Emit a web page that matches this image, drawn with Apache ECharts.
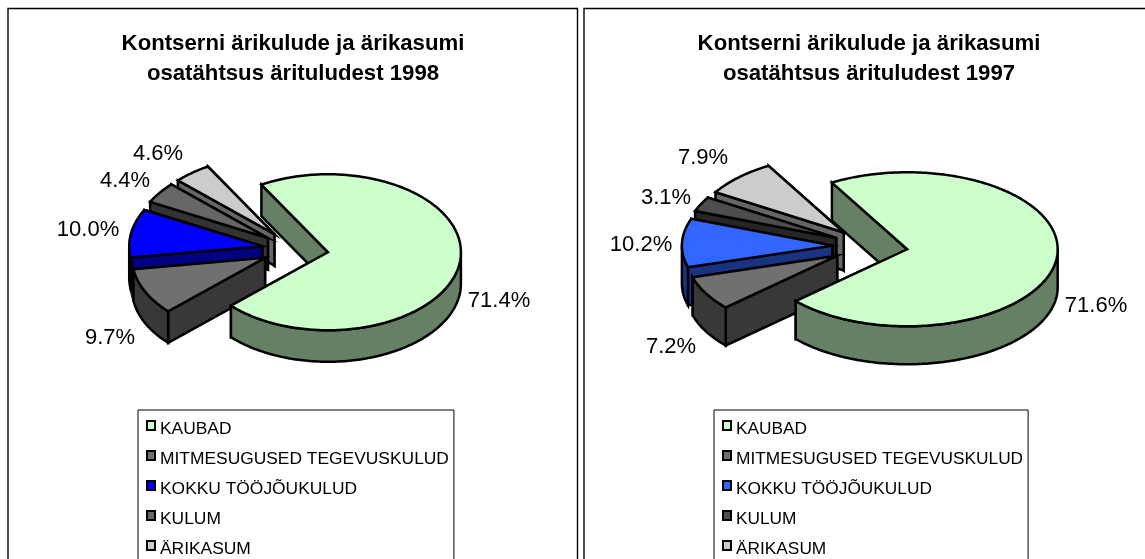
<!DOCTYPE html>
<html>
<head>
<meta charset="utf-8">
<style>
html, body { margin: 0; padding: 0; background: #fff; overflow: hidden; }
#left, #right { position: absolute; top: 0; height: 559px; }
#left { left: 0; width: 581px; }
#right { left: 581px; width: 564px; }
</style>
</head>
<body>
<div id="left"></div>
<div id="right"></div>
<script src="https://cdn.jsdelivr.net/npm/echarts@6/dist/echarts.min.js"></script>
<script>
var categories = ['KAUBAD', 'MITMESUGUSED TEGEVUSKULUD', 'KOKKU TÖÖJÕUKULUD', 'KULUM', 'ÄRIKASUM']

var values1998 = [71.4, 9.7, 10.0, 4.4, 4.6]
var values1997 = [71.6, 7.2, 10.2, 3.1, 7.9]

var labels1998 = ['71.4%', '9.7%', '10.0%', '4.4%', '4.6%']
var labels1997 = ['71.6%', '7.2%', '10.2%', '3.1%', '7.9%']

var titleLines = ['Kontserni ärikulude ja ärikasumi', 'osatähtsus ärituludest ']

var font = '"Liberation Sans", Arial, sans-serif'

// 3d pie: each slice is pulled out along its own middle angle
var drawPie = (dom, cfg) => {
    var chart = echarts.init(dom)
    var total = cfg.values.reduce((a, b) => a + b, 0)
    var rad = (deg) => deg * Math.PI / 180

    // angle is clockwise from the top, pie is squashed to an ellipse
    var point = (o, r, deg) => [
        o[0] + r * cfg.rx * Math.sin(rad(deg)),
        o[1] - r * cfg.ry * Math.cos(rad(deg))
    ]
    var down = (p) => [p[0], p[1] + cfg.depth]

    var arc = (o, from, to) => {
        var pts = []
        var n = Math.max(2, Math.ceil(to - from))
        for (var i = 0; i <= n; i++) {
            pts.push(point(o, 1, from + (to - from) * i / n))
        }
        return pts
    }

    var shape = (points, fill) => ({
        type: 'polygon',
        shape: {points: points},
        style: {fill: fill, stroke: '#000', lineWidth: 2.5}
    })

    var renderSlice = (i) => (params, api) => {
        var before = cfg.values.slice(0, i).reduce((a, b) => a + b, 0)
        var from = cfg.startAngle + before / total * 360
        var to = from + api.value(0) / total * 360
        var mid = (from + to) / 2
        var o = point(cfg.center, cfg.explode, mid)
        var rim = arc(o, from, to)
        var last = rim[rim.length - 1]

        // end wall faces away here, so it goes first
        var children = [
            shape([o, last, down(last), down(o)], cfg.sideColors[i]),
            shape([o, rim[0], down(rim[0]), down(o)], cfg.sideColors[i])
        ]

        // only the front half of the rim shows its wall
        var wallFrom = Math.max(from, 90)
        var wallTo = Math.min(to, 270)
        if (wallTo > wallFrom) {
            var wall = arc(o, wallFrom, wallTo)
            children.push(shape(wall.concat(wall.map(down).reverse()), cfg.sideColors[i]))
        }

        children.push(shape([o].concat(rim), cfg.topColors[i]))

        children.push({
            type: 'text',
            style: {
                text: cfg.labels[i],
                x: cfg.labelPos[i][0],
                y: cfg.labelPos[i][1],
                align: 'center',
                verticalAlign: 'middle',
                fill: '#000',
                font: '22px ' + font
            }
        })

        return {type: 'group', children: children}
    }

    // back slices first so the front ones cover them
    var series = categories.map((name, i) => ({
        name: name,
        type: 'custom',
        coordinateSystem: 'none',
        silent: true,
        renderItem: renderSlice(i),
        data: [[cfg.values[i]]]
    })).reverse()

    chart.setOption({
        animation: false,
        title: {
            text: titleLines[0] + '\n' + titleLines[1] + cfg.year,
            left: cfg.titleX,
            top: 24,
            textAlign: 'center',
            textStyle: {
                fontFamily: font,
                fontWeight: 'bold',
                fontSize: 22.2,
                lineHeight: 30,
                color: '#000'
            }
        },
        legend: {
            orient: 'vertical',
            left: cfg.legendLeft,
            top: 410,
            // taller than the window, the box runs off the bottom like the source
            height: 170,
            padding: [10, 5, 8, 8],
            itemGap: 12,
            itemWidth: 8,
            itemHeight: 9,
            selectedMode: false,
            backgroundColor: '#fff',
            borderColor: '#000',
            borderWidth: 1,
            formatter: '{a|{name}}',
            textStyle: {
                rich: {
                    a: {
                        fontFamily: font,
                        fontSize: cfg.legendFont,
                        color: '#000',
                        padding: [8, 0, 0, 0]
                    }
                }
            },
            data: categories.map((name, i) => ({
                name: name,
                icon: 'rect',
                itemStyle: {color: cfg.topColors[i], borderColor: '#000', borderWidth: 2}
            }))
        },
        graphic: [{
            type: 'rect',
            silent: true,
            shape: {x: cfg.frame[0], y: cfg.frame[1], width: cfg.frame[2], height: cfg.frame[3]},
            style: {fill: 'none', stroke: '#000', lineWidth: 1.4}
        }],
        series: series
    })
}

drawPie(document.getElementById('left'), {
    year: '1998',
    values: values1998,
    labels: labels1998,
    startAngle: -30,
    center: [295, 249.4],
    rx: 133,
    ry: 78,
    depth: 31.5,
    explode: 0.25,
    topColors: ['#CCFFCC', '#707070', '#0000FF', '#666666', '#CCCCCC'],
    sideColors: ['#668066', '#383838', '#000080', '#333333', '#666666'],
    labelPos: [[499, 301], [110, 338], [88, 230], [125, 181], [158, 154]],
    titleX: 288,
    legendLeft: 138,
    legendFont: 17.4,
    frame: [8, 8.5, 569.5, 600]
})

drawPie(document.getElementById('right'), {
    year: '1997',
    values: values1997,
    labels: labels1997,
    startAngle: -30,
    center: [289, 246.3],
    rx: 150.5,
    ry: 77,
    depth: 38,
    explode: 0.25,
    topColors: ['#CCFFCC', '#707070', '#3366FF', '#4D4D4D', '#CCCCCC'],
    sideColors: ['#668066', '#383838', '#1A3380', '#262626', '#666666'],
    labelPos: [[515, 306], [90, 347], [60, 245], [85, 198], [122, 158]],
    titleX: 283,
    legendLeft: 133,
    legendFont: 17.3,
    frame: [3, 8.5, 600, 600]
})
</script>
</body>
</html>
